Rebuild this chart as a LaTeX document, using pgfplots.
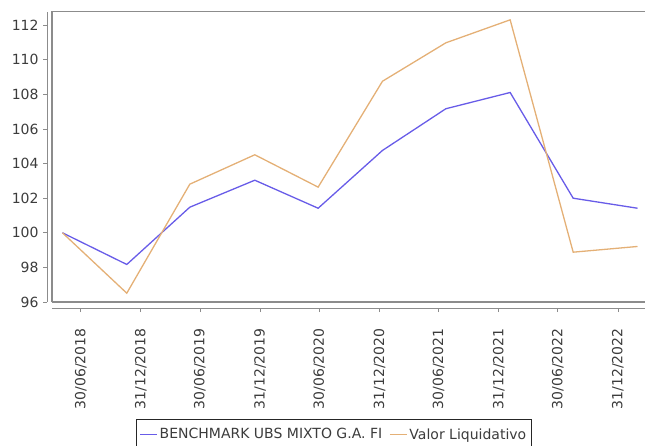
\documentclass[border=0pt]{standalone}
\usepackage{pgfplots}
\pgfplotsset{compat=1.18}
\usepackage{fontspec}
\setmainfont{DejaVu Sans}
\definecolor{bench}{RGB}{104,92,232}
\definecolor{valor}{RGB}{228,176,118}
\definecolor{txt}{RGB}{60,60,60}
\definecolor{frm}{RGB}{140,140,140}
\newcommand{\tfont}{\fontsize{14bp}{16bp}\selectfont}
\begin{document}
\begin{tikzpicture}[x=1bp,y=1bp]
\useasboundingbox (0,0) rectangle (645,-446);
\begin{axis}[
  name=ax,
  at={(52bp,-302bp)}, anchor=south west,
  scale only axis, width=593bp, height=290.3bp,
  xmin=-88, xmax=1728, ymin=96, ymax=112.78,
  axis x line=bottom, axis y line=left,
  axis line style={-, draw=frm, line width=0.8bp},
  axis x line shift=6bp, axis y line shift=5bp,
  xtick={0,184,365,549,731,915,1096,1280,1461,1645},
  xticklabels={30/06/2018,31/12/2018,30/06/2019,31/12/2019,30/06/2020,31/12/2020,30/06/2021,31/12/2021,30/06/2022,31/12/2022},
  xticklabel style={rotate=90, anchor=east, font=\tfont, text=txt},
  xticklabel shift=13bp,
  ytick={96,98,...,112},
  yticklabel style={font=\tfont, text=txt},
  yticklabel shift=1bp,
  tick align=outside, major tick length=4bp, tick style={draw=frm, line width=0.8bp},
  /pgf/number format/assume math mode=true,
  legend style={at={(0.1417,-0.403)}, anchor=north west, legend columns=2,
    draw=black!85, line width=0.8bp, font=\tfont, text=txt, inner xsep=3bp, inner ysep=7bp,
    /tikz/every even column/.append style={column sep=5bp}},
  legend cell align=left,
]
\addplot[bench, line width=1.3bp] coordinates {
(-56,100.00) (141,98.17) (334,101.48) (533,103.04) (727,101.42)
(924,104.76) (1118,107.17) (1315,108.11) (1508,102.00) (1705,101.42)};
\addlegendentry{BENCHMARK UBS MIXTO G.A. FI}
\addplot[valor, line width=1.3bp] coordinates {
(-56,100.00) (141,96.51) (334,102.81) (533,104.51) (727,102.64)
(924,108.76) (1118,110.98) (1315,112.31) (1508,98.88) (1705,99.21)};
\addlegendentry{Valor Liquidativo}
\end{axis}
\draw[frm, line width=1.2bp] (ax.south west) -- (ax.north west) -- (ax.north east);
\draw[frm, line width=1.2bp] (ax.south west) -- (ax.south east);
\end{tikzpicture}
\end{document}
